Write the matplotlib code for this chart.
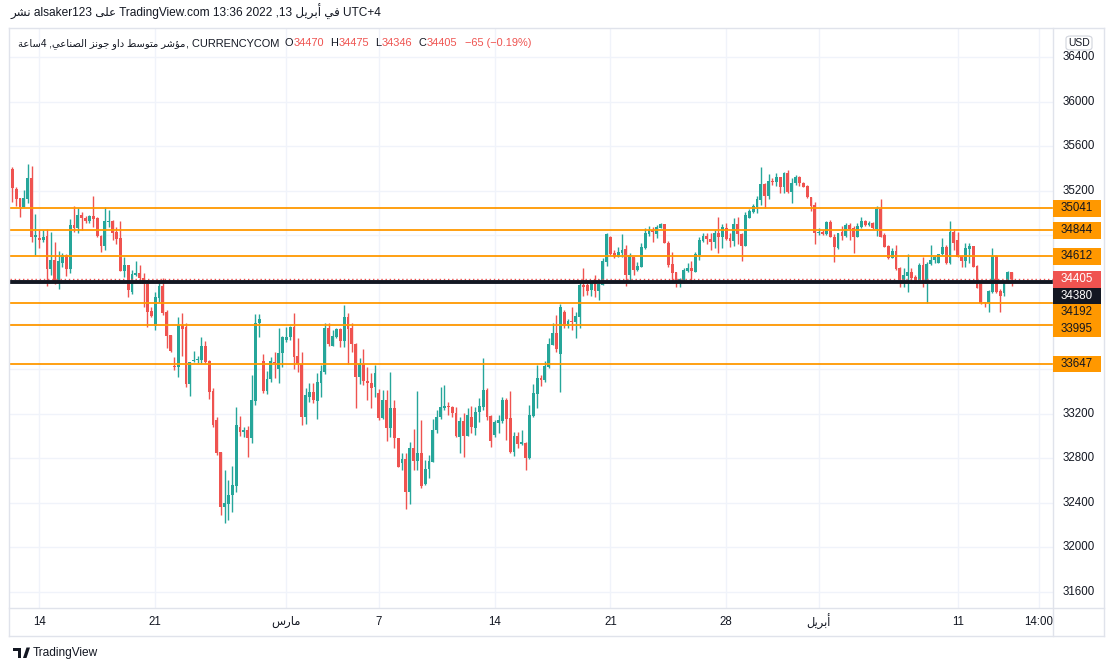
import re
import numpy as np
import matplotlib
matplotlib.use("Agg")
import matplotlib.pyplot as plt
from matplotlib.patches import Rectangle, FancyBboxPatch, Polygon
from matplotlib.lines import Line2D
from matplotlib.transforms import blended_transform_factory

# ---------------- data (4h candles) ----------------
opens = [
    35395, 35215, 35137, 35057, 35125, 35317, 34787, 34778, 34757, 34793,
    34494, 34578, 34369, 34554, 34623, 34500, 34892, 34868, 34982, 34952,
    34931, 34973, 34952, 34793, 34707, 34922, 34928, 34832, 34778, 34482,
    34533, 34294, 34443, 34458, 34419, 34360, 34120, 33989, 34240, 34345,
    34108, 33905, 33627, 33621, 33995, 33980, 33466, 33672, 33678, 33681,
    33807, 33672, 33403, 33143, 32859, 32365, 32386, 32470, 32554, 33083,
    33038, 33053, 32984, 33316, 34010, 33672, 33403, 33511, 33666, 33600,
    33741, 33861, 33885, 33980, 33717, 33642, 33173, 33346, 33391, 33316,
    33478, 33576, 33971, 33810, 33891, 33956, 33855, 34064, 33965, 33822,
    33532, 33645, 33493, 33472, 33442, 33382, 33157, 33322, 33068, 33253,
    32978, 32754, 32793, 32493, 32888, 32778, 32843, 32568, 32700, 32769,
    33053, 33166, 33247, 33262, 33262, 33202, 32993, 33133, 33002, 33172,
    33074, 33211, 33262, 33412, 33178, 33008, 33119, 33136, 33322, 33157,
    32858, 33002, 32927, 32933, 32805, 33181, 33376, 33516, 33501, 33621,
    33815, 33926, 33735, 34109, 33989, 34028, 34025, 34070, 34354, 34354,
    34309, 34375, 34303, 34354, 34564, 34788, 34644, 34609, 34644, 34674,
    34444, 34609, 34489, 34519, 34689, 34812, 34848, 34812, 34869, 34899,
    34734, 34543, 34474, 34375, 34399, 34483, 34504, 34474, 34623, 34749,
    34794, 34767, 34743, 34818, 34788, 34869, 34779, 34752, 34902, 34811,
    34707, 34958, 35012, 35057, 35116, 35260, 35155, 35287, 35281, 35320,
    35236, 35362, 35185, 35266, 35320, 35272, 35242, 35140, 35071, 34817,
    34832, 34808, 34922, 34781, 34683, 34832, 34793, 34892, 34862, 34787,
    34877, 34928, 34892, 34913, 34856, 35036, 34802, 34704, 34599, 34659,
    34503, 34398, 34434, 34467, 34422, 34375, 34533, 34360, 34539, 34578,
    34554, 34629, 34698, 34548, 34832, 34757, 34614, 34572, 34677, 34704,
    34524, 34363, 34201, 34195, 34288, 34614, 34300, 34279, 34378, 34470,
]
closes = [
    35227, 35125, 35057, 35137, 35317, 34787, 34802, 34757, 34781, 34494,
    34578, 34369, 34569, 34623, 34500, 34892, 34868, 34982, 34958, 34928,
    34973, 34949, 34793, 34707, 34928, 34931, 34823, 34766, 34482, 34533,
    34309, 34449, 34458, 34413, 34360, 34114, 34078, 34249, 34345, 34105,
    33899, 33761, 33621, 33995, 33959, 33466, 33666, 33681, 33690, 33807,
    33666, 33397, 33098, 32850, 32365, 32395, 32470, 32560, 33098, 33038,
    33053, 32984, 33322, 34010, 34049, 33403, 33511, 33672, 33651, 33741,
    33885, 33891, 33980, 33711, 33642, 33173, 33367, 33397, 33322, 33487,
    33582, 33971, 33825, 33897, 33956, 33855, 34064, 33959, 33822, 33532,
    33645, 33493, 33472, 33433, 33562, 33163, 33322, 33068, 33253, 32978,
    32724, 32793, 32493, 32888, 32778, 32843, 32553, 32703, 32775, 33053,
    33172, 33262, 33271, 33256, 33202, 32999, 33133, 33002, 33187, 33077,
    33217, 33268, 33412, 33172, 32957, 33122, 33142, 33322, 33151, 32852,
    33002, 32927, 32948, 32805, 33187, 33382, 33516, 33501, 33627, 33824,
    33926, 33780, 34153, 33989, 34031, 34025, 34076, 34354, 34339, 34303,
    34375, 34303, 34363, 34570, 34812, 34632, 34609, 34653, 34668, 34444,
    34623, 34489, 34525, 34698, 34824, 34848, 34827, 34872, 34902, 34728,
    34534, 34465, 34369, 34405, 34489, 34510, 34480, 34629, 34758, 34794,
    34767, 34743, 34818, 34788, 34878, 34764, 34749, 34902, 34809, 34707,
    34982, 35018, 35066, 35125, 35260, 35155, 35290, 35281, 35320, 35230,
    35362, 35185, 35272, 35320, 35272, 35236, 35140, 35063, 34817, 34832,
    34811, 34922, 34787, 34692, 34817, 34793, 34892, 34856, 34781, 34883,
    34928, 34892, 34913, 34862, 35036, 34787, 34698, 34593, 34659, 34497,
    34398, 34443, 34467, 34413, 34378, 34533, 34360, 34542, 34578, 34602,
    34629, 34698, 34548, 34832, 34728, 34608, 34572, 34689, 34707, 34518,
    34330, 34195, 34189, 34300, 34614, 34294, 34258, 34378, 34467, 34405,
]
highs = [
    35415, 35236, 35137, 35206, 35439, 35424, 34991, 34847, 34847, 34856,
    34826, 34742, 34659, 34638, 34632, 34946, 35063, 35042, 35012, 34976,
    34982, 35155, 34967, 34799, 35051, 35027, 34937, 34877, 34928, 34602,
    34533, 34488, 34569, 34533, 34458, 34398, 34159, 34294, 34369, 34419,
    34129, 33905, 33705, 34070, 34100, 34010, 33666, 33762, 33717, 33885,
    33852, 33681, 33427, 33173, 32859, 32694, 32604, 32730, 33262, 33182,
    33083, 33089, 33547, 34094, 34091, 33735, 33585, 33711, 33756, 33971,
    33897, 33980, 33989, 34106, 33876, 33756, 33433, 33478, 33472, 33568,
    33636, 34016, 34016, 33950, 33965, 33971, 34175, 34106, 34010, 33831,
    33696, 33780, 33621, 33562, 33636, 33418, 33412, 33412, 33576, 33322,
    32978, 32843, 32843, 32948, 33059, 33403, 33142, 32784, 32828, 33151,
    33232, 33442, 33457, 33301, 33271, 33262, 33172, 33202, 33247, 33268,
    33262, 33337, 33696, 33433, 33187, 33142, 33187, 33346, 33337, 33403,
    33032, 33032, 33053, 32948, 33277, 33463, 33636, 33546, 33675, 33875,
    34016, 34085, 34183, 34130, 34049, 34154, 34115, 34384, 34504, 34369,
    34393, 34444, 34405, 34600, 34824, 34794, 34668, 34692, 34812, 34713,
    34638, 34609, 34558, 34728, 34869, 34884, 34878, 34893, 34914, 34902,
    34749, 34653, 34474, 34420, 34504, 34549, 34573, 34653, 34788, 34824,
    34824, 34818, 34848, 34967, 34902, 34908, 34818, 34952, 34961, 34817,
    35012, 35033, 35080, 35155, 35415, 35266, 35350, 35311, 35356, 35326,
    35371, 35386, 35311, 35341, 35332, 35281, 35251, 35146, 35095, 34862,
    34847, 34931, 34937, 34811, 34823, 34883, 34907, 34907, 34883, 34913,
    34967, 34937, 34928, 34922, 35063, 35125, 34817, 34713, 34683, 34713,
    34518, 34503, 34629, 34503, 34443, 34548, 34608, 34563, 34713, 34614,
    34632, 34772, 34713, 34928, 34853, 34832, 34623, 34728, 34728, 34707,
    34533, 34369, 34204, 34309, 34689, 34623, 34315, 34390, 34482, 34475,
]
lows = [
    35101, 35063, 34967, 35051, 35086, 34742, 34623, 34689, 34742, 34348,
    34443, 34363, 34315, 34512, 34437, 34458, 34832, 34823, 34847, 34907,
    34913, 34877, 34781, 34653, 34668, 34877, 34757, 34722, 34482, 34428,
    34249, 34273, 34434, 34375, 34159, 33980, 34070, 33950, 34198, 34084,
    33791, 33755, 33591, 33531, 33717, 33440, 33361, 33660, 33657, 33651,
    33657, 33328, 33083, 32829, 32290, 32222, 32245, 32314, 32494, 32999,
    32993, 32814, 32933, 33277, 33885, 33382, 33376, 33487, 33517, 33472,
    33621, 33846, 33861, 33600, 33570, 33098, 33107, 33307, 33298, 33152,
    33352, 33556, 33807, 33807, 33876, 33801, 33801, 33642, 33756, 33253,
    33466, 33457, 33322, 33247, 33352, 33142, 33152, 32957, 32993, 32894,
    32724, 32694, 32341, 32386, 32694, 32694, 32529, 32559, 32625, 32763,
    33029, 33148, 33232, 33187, 33172, 32987, 32849, 32813, 33002, 33023,
    33008, 33122, 33232, 33142, 32903, 32993, 33023, 33113, 32963, 32843,
    32822, 32888, 32918, 32694, 32793, 33172, 33247, 33448, 33486, 33612,
    33815, 33756, 33397, 33971, 33971, 33950, 33876, 33971, 34259, 34265,
    34259, 34250, 34220, 34354, 34528, 34623, 34594, 34603, 34609, 34348,
    34369, 34444, 34480, 34519, 34674, 34794, 34743, 34779, 34863, 34728,
    34519, 34384, 34333, 34339, 34369, 34474, 34369, 34474, 34579, 34743,
    34722, 34668, 34683, 34644, 34683, 34758, 34698, 34707, 34722, 34569,
    34707, 34952, 34997, 34997, 35071, 35042, 35125, 35251, 35242, 35176,
    35176, 35176, 35086, 35251, 35242, 35230, 35131, 35021, 34719, 34802,
    34802, 34802, 34781, 34563, 34677, 34757, 34787, 34757, 34638, 34781,
    34868, 34883, 34883, 34853, 34796, 34781, 34692, 34584, 34593, 34488,
    34339, 34339, 34294, 34375, 34369, 34369, 34339, 34195, 34533, 34554,
    34548, 34623, 34542, 34542, 34668, 34602, 34518, 34518, 34548, 34512,
    34324, 34183, 34153, 34114, 34279, 34285, 34114, 34258, 34369, 34346,
]

orange_levels = [35041, 34844, 34612, 34192, 33995, 33647]
black_level = 34380
last_price = 34405

price_ticks = [31600, 32000, 32400, 32800, 33200, 33600, 34000,
               34400, 34800, 35200, 35600, 36000, 36400]
time_tick_bars = [7, 37, 71, 95, 125, 155, 185, 209, 245, 266]
time_tick_labels = ["14", "21", "مارس", "7", "14", "21", "28", "أبريل", "11", "14:00"]

header_line1 = "نشر alsaker123 على TradingView.com 13:36 2022 ,13 أبريل في UTC+4"
title_arabic = "ساعة4 ,الصناعي جونز داو متوسط مؤشر"
title_symbol = ", CURRENCYCOM"
ohlc_labels = ["O", "H", "L", "C"]
ohlc_values = ["34470", "34475", "34346", "34405"]
change_text = "−65 (−0.19%)"

# ---------------- minimal Arabic shaping (visual order per word) ----------------
AR_FORMS = {
    'ا': ('\uFE8D', '\uFE8E', None, None), 'أ': ('\uFE83', '\uFE84', None, None),
    'ؤ': ('\uFE85', '\uFE86', None, None), 'ب': ('\uFE8F', '\uFE90', '\uFE91', '\uFE92'),
    'ة': ('\uFE93', '\uFE94', None, None), 'ت': ('\uFE95', '\uFE96', '\uFE97', '\uFE98'),
    'ج': ('\uFE9D', '\uFE9E', '\uFE9F', '\uFEA0'), 'د': ('\uFEA9', '\uFEAA', None, None),
    'ر': ('\uFEAD', '\uFEAE', None, None), 'ز': ('\uFEAF', '\uFEB0', None, None),
    'س': ('\uFEB1', '\uFEB2', '\uFEB3', '\uFEB4'), 'ش': ('\uFEB5', '\uFEB6', '\uFEB7', '\uFEB8'),
    'ص': ('\uFEB9', '\uFEBA', '\uFEBB', '\uFEBC'), 'ط': ('\uFEC1', '\uFEC2', '\uFEC3', '\uFEC4'),
    'ع': ('\uFEC9', '\uFECA', '\uFECB', '\uFECC'), 'ف': ('\uFED1', '\uFED2', '\uFED3', '\uFED4'),
    'ل': ('\uFEDD', '\uFEDE', '\uFEDF', '\uFEE0'), 'م': ('\uFEE1', '\uFEE2', '\uFEE3', '\uFEE4'),
    'ن': ('\uFEE5', '\uFEE6', '\uFEE7', '\uFEE8'), 'و': ('\uFEED', '\uFEEE', None, None),
    'ى': ('\uFEEF', '\uFEF0', None, None), 'ي': ('\uFEF1', '\uFEF2', '\uFEF3', '\uFEF4'),
}


def shape_word(w):
    out = []
    for i, ch in enumerate(w):
        f = AR_FORMS.get(ch)
        if f is None:
            out.append(ch)
            continue
        prev = w[i - 1] if i > 0 else None
        nxt = w[i + 1] if i < len(w) - 1 else None
        jp = prev in AR_FORMS and AR_FORMS[prev][2] is not None
        jn = f[2] is not None and nxt in AR_FORMS
        out.append(f[3] if (jp and jn) else f[1] if jp else f[2] if jn else f[0])
    return "".join(reversed(out))


def vis(s):
    return re.sub("[\u0600-\u06FF]+", lambda m: shape_word(m.group()), s)


# ---------------- styling ----------------
UP = "#26a69a"
DOWN = "#ef5350"
ORANGE = "#ff9800"
DARK = "#131722"
GRID = "#f0f3fa"
BORDER = "#e0e3eb"

plt.rcParams["font.family"] = ["Liberation Sans", "DejaVu Sans"]

W, H = 1115, 671
fig = plt.figure(figsize=(W / 100, H / 100), dpi=100)
fig.patch.set_facecolor("white")


def fx(px):
    return px / W


def fy(py):
    return 1 - py / H


PL, PR, PT, PB = 10, 1053, 28, 608
ax = fig.add_axes([fx(PL), fy(PB), fx(PR) - fx(PL), fy(PT) - fy(PB)])
ax.set_xlim(-0.6, 269.7)
ax.set_ylim(31456, 36660)
ax.set_axis_off()

o = np.array(opens, float)
c = np.array(closes, float)
hi = np.maximum(np.array(highs, float), np.maximum(o, c))
lo = np.minimum(np.array(lows, float), np.minimum(o, c))
idx = np.arange(len(o))
cols = np.where(c >= o, UP, DOWN)

# grid
for p in price_ticks:
    ax.axhline(p, color=GRID, lw=1, zorder=0)
for b in time_tick_bars:
    ax.axvline(b, color=GRID, lw=1, zorder=0)

# candles
ax.vlines(idx, lo, hi, colors=cols, lw=1, zorder=3)
ax.bar(idx, np.maximum(np.abs(c - o), 9), bottom=np.minimum(o, c), width=0.74,
       color=cols, lw=0, zorder=4)

# horizontal levels
for lv in orange_levels:
    ax.axhline(lv, color=ORANGE, lw=1.3, zorder=5)
ax.axhline(black_level, color=DARK, lw=2.8, zorder=6)
ax.axhline(last_price, color=DOWN, lw=1, ls=(0, (1, 2)), zorder=5)

fig.canvas.draw()


def price_to_py(p):
    return H - ax.transData.transform((0, p))[1]


# price tags with simple stacking to avoid overlap
tags = [(lv, ORANGE, DARK) for lv in orange_levels]
tags.append((last_price, DOWN, "white"))
tags.append((black_level, DARK, "white"))
tags.sort(key=lambda t: -t[0])
tag_h = 16.5
tag_centers = []
prev_py = -1e9
for price, fc, tc in tags:
    py = max(price_to_py(price), prev_py + tag_h)
    prev_py = py
    tag_centers.append(py)
    fig.add_artist(Rectangle((fx(PR), fy(py + tag_h / 2)), fx(1101) - fx(PR), tag_h / H,
                             transform=fig.transFigure, facecolor=fc, edgecolor="none", zorder=8))
    fig.text(fx(1077), fy(py), str(price), ha="center", va="center", fontsize=8.3,
             color=tc, zorder=9)

# price axis labels (those hidden behind a tag are not shown, as in the reference)
for p in price_ticks:
    py = price_to_py(p)
    if any(abs(py - tc) < tag_h / 2 + 6 for tc in tag_centers):
        continue
    fig.text(fx(1063), fy(py), str(p), ha="left", va="center", fontsize=8.3, color=DARK)

# USD box
fig.add_artist(FancyBboxPatch((fx(1066), fy(50)), fx(1092) - fx(1066), 14 / H,
                              boxstyle="round,pad=0,rounding_size=0.004",
                              transform=fig.transFigure, facecolor="white",
                              edgecolor="#d1d4dc", lw=0.8, zorder=8))
fig.text(fx(1079), fy(42.5), "USD", ha="center", va="center", fontsize=7.5, color=DARK, zorder=9)

# time axis labels
trx = blended_transform_factory(ax.transData, fig.transFigure)
for b, lab in zip(time_tick_bars, time_tick_labels):
    ax.text(b, fy(622), vis(lab), transform=trx, ha="center", va="center",
            fontsize=8.3, color=DARK, clip_on=False)

# frame lines
for (x0, y0, x1, y1) in [(9, 28, 1104, 28), (9, 608, 1104, 608), (9, 636, 1104, 636),
                         (9, 28, 9, 636), (1104, 28, 1104, 636), (PR, 28, PR, 636)]:
    fig.add_artist(Line2D([fx(x0), fx(x1)], [fy(y0), fy(y1)], color=BORDER, lw=1,
                          transform=fig.transFigure, zorder=1))

# header texts
renderer = fig.canvas.get_renderer()


def text_run(x, y, pieces):
    for txt, col, gap, size in pieces:
        x += gap
        t = fig.text(fx(x), fy(y), txt, color=col, fontsize=size, ha="left", va="baseline")
        x += t.get_window_extent(renderer).width


text_run(10, 17, [(vis(header_line1), DARK, 0, 8.6)])
pieces = [(vis(title_arabic), DARK, 0, 7.2), (title_symbol, DARK, 0, 7.9)]
for lab, val in zip(ohlc_labels, ohlc_values):
    pieces.append((lab, DARK, 6, 7.9))
    pieces.append((val, DOWN, 0.5, 7.9))
pieces.append((change_text, DOWN, 7, 7.9))
text_run(18, 46, pieces)

# TradingView logo
fig.add_artist(Rectangle((fx(13), fy(650.5)), 8 / W, 3 / H, transform=fig.transFigure,
                         facecolor=DARK, edgecolor="none"))
fig.add_artist(Rectangle((fx(17.5), fy(658)), 3.5 / W, 8 / H, transform=fig.transFigure,
                         facecolor=DARK, edgecolor="none"))
fig.add_artist(Polygon([(fx(23), fy(658)), (fx(26.5), fy(647.5)), (fx(30), fy(647.5)),
                        (fx(26.5), fy(658))], closed=True, transform=fig.transFigure,
                       facecolor=DARK, edgecolor="none"))
fig.text(fx(33), fy(653), "TradingView", ha="left", va="center", fontsize=8.6, color=DARK)

fig.savefig("out.png", dpi=100, facecolor="white")
